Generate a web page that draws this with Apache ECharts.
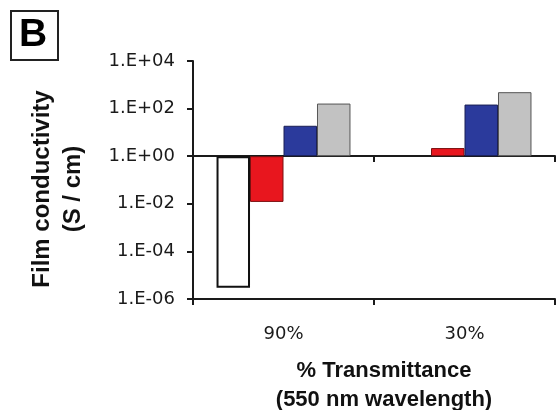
<!DOCTYPE html>
<html>
<head>
<meta charset="utf-8">
<script src="https://cdn.jsdelivr.net/npm/echarts@6/dist/echarts.min.js"></script>
<style>
  html, body { margin: 0; padding: 0; background: #fff; }
  #chart { width: 560px; height: 410px; }
</style>
</head>
<body>
<div id="chart"></div>
<script>
// Film conductivity (S/cm) at two optical transmittances
const categories = ['90%', '30%'];
const filmA = [3e-6, null];   // white bars
const filmB = [0.012, 2.2];   // red bars
const filmC = [19, 148];      // blue bars
const filmD = [163, 490];     // gray bars
const yTickLabels = ['1.E-06', '1.E-04', '1.E-02', '1.E+00', '1.E+02', '1.E+04'];

const chart = echarts.init(document.getElementById('chart'), null, { renderer: 'canvas' });

const tickFont = 'DejaVu Sans, Liberation Sans, Arial, sans-serif';
const titleFont = 'Liberation Sans, Arial, sans-serif';

function expLabel(v) {
  const e = Math.round(Math.log10(v));
  return yTickLabels[(e + 6) / 2] || '';
}

function barSeries(name, data, fill, border, bw) {
  return {
    name: name,
    type: 'bar',
    data: data,
    barGap: '0%',
    barCategoryGap: '26%',
    itemStyle: { color: fill, borderColor: border, borderWidth: bw },
    emphasis: { disabled: true }
  };
}

chart.setOption({
  animation: false,
  backgroundColor: '#ffffff',
  grid: {
    left: 193, right: 5, top: 61, bottom: 111,
    containLabel: false, outerBoundsMode: 'none'
  },
  xAxis: [
    {
      type: 'category',
      data: categories,
      position: 'bottom',
      axisLine: { lineStyle: { color: '#1a1a1a', width: 2 } },
      axisTick: { show: true, length: 6, lineStyle: { color: '#1a1a1a', width: 2 } },
      axisLabel: { fontFamily: tickFont, fontSize: 18, color: '#1a1a1a', margin: 26 },
      name: '% Transmittance\n(550 nm wavelength)',
      nameLocation: 'middle',
      nameGap: 57,
      nameTextStyle: {
        fontFamily: titleFont, fontWeight: 'bold', fontSize: 22,
        color: '#111', lineHeight: 29, padding: [0, 0, 0, 20]
      }
    },
    {
      // axis line crossing the value axis at 1.E+00
      type: 'category',
      data: categories,
      position: 'bottom',
      offset: -143,
      axisLine: { lineStyle: { color: '#1a1a1a', width: 2 } },
      axisTick: { show: true, length: 6, lineStyle: { color: '#1a1a1a', width: 2 } },
      axisLabel: { show: false }
    }
  ],
  yAxis: {
    type: 'log',
    logBase: 10,
    min: 1e-6,
    max: 1e4,
    interval: 2,
    axisLine: { show: true, lineStyle: { color: '#1a1a1a', width: 2 } },
    axisTick: { show: true, length: 6, lineStyle: { color: '#1a1a1a', width: 2 } },
    minorTick: { show: false },
    splitLine: { show: false },
    axisLabel: {
      fontFamily: tickFont, fontSize: 18, color: '#1a1a1a', margin: 18,
      formatter: expLabel
    },
    name: 'Film conductivity\n(S / cm)',
    nameLocation: 'middle',
    nameRotate: 90,
    nameGap: 104,
    nameTextStyle: {
      fontFamily: titleFont, fontWeight: 'bold', fontSize: 24,
      color: '#111', lineHeight: 31, padding: [0, 18, 0, 0]
    }
  },
  series: [
    barSeries('A', filmA, '#ffffff', '#111111', 2),
    barSeries('B', filmB, '#e8161e', '#7a1010', 1),
    barSeries('C', filmC, '#2b3a9c', '#1a1f55', 1),
    barSeries('D', filmD, '#c2c2c2', '#555555', 1)
  ],
  graphic: [
    {
      type: 'rect',
      shape: { x: 11, y: 11, width: 47, height: 49 },
      style: { fill: '#fff', stroke: '#222', lineWidth: 2 }
    },
    {
      type: 'text',
      left: 19, top: 16,
      style: {
        text: 'B', fontFamily: titleFont, fontWeight: 'bold',
        fontSize: 39, fill: '#000'
      }
    }
  ]
});
</script>
</body>
</html>
